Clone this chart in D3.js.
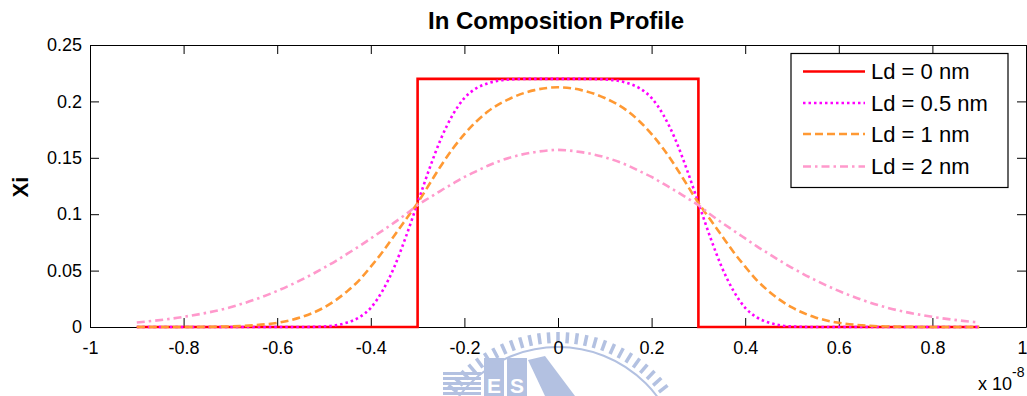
<!DOCTYPE html>
<meta charset="utf-8">
<style>
    body {
        margin: 0;
        background: #fff;
        font-family: Arial, "Liberation Sans", Helvetica, sans-serif;
    }
    .axis text { font-size: 18px; fill: #000; }
    .axis path, .axis line { stroke: #000; }
</style>
<body>
<script src="https://cdn.jsdelivr.net/npm/d3@7"></script>
<script>

// x positions (units of 1e-8 m) shared by the smooth profiles
var xs = [-0.9,-0.8,-0.7,-0.65,-0.6,-0.55,-0.5,-0.475,-0.45,-0.425,-0.4,-0.375,-0.35,-0.325,-0.3,-0.275,-0.25,-0.225,-0.2,-0.175,-0.15,-0.1,-0.05,
          0,
          0.05,0.1,0.15,0.175,0.2,0.225,0.25,0.275,0.3,0.325,0.35,0.375,0.4,0.425,0.45,0.475,0.5,0.55,0.6,0.65,0.7,0.8,0.9];

// Ld = 0 nm : sharp step
var ld0x = [-0.9, -0.3, -0.3, 0.3, 0.3, 0.9];
var ld0y = [0, 0, 0.22, 0.22, 0, 0];

// Ld = 0.5 nm
var ld05 = [0,0,0,0,0,0,0.0005,0.0015,0.004,0.0085,0.017,0.032,0.053,0.080,0.110,0.140,0.167,0.188,0.203,0.2115,0.216,0.2195,0.22,
            0.22,
            0.22,0.2195,0.216,0.2115,0.203,0.188,0.167,0.140,0.110,0.080,0.053,0.032,0.017,0.0085,0.004,0.0015,0.0005,0,0,0,0,0,0];

// Ld = 1 nm
var ld1 = [0,0,0.0005,0.0015,0.0037,0.0085,0.0173,0.0238,0.0318,0.0414,0.0535,0.0665,0.081,0.0955,0.110,0.1265,0.143,0.158,0.171,0.182,0.191,0.203,0.210,
           0.2125,
           0.210,0.203,0.191,0.182,0.171,0.158,0.143,0.1265,0.110,0.0955,0.081,0.0665,0.0535,0.0414,0.0318,0.0238,0.0173,0.0085,0.0037,0.0015,0.0005,0,0];

// Ld = 2 nm
var ld2 = [0.004,0.009,0.0175,0.024,0.032,0.0415,0.0525,0.0585,0.065,0.0715,0.0785,0.0855,0.0925,0.1,0.108,0.1145,0.121,0.127,0.133,0.138,0.143,0.1505,0.155,
           0.157,
           0.155,0.1505,0.143,0.138,0.133,0.127,0.121,0.1145,0.108,0.1,0.0925,0.0855,0.0785,0.0715,0.065,0.0585,0.0525,0.0415,0.032,0.024,0.0175,0.009,0.004];

var legendLabels = ["Ld = 0 nm", "Ld = 0.5 nm", "Ld = 1 nm", "Ld = 2 nm"];
var xTicks = [-1,-0.8,-0.6,-0.4,-0.2,0,0.2,0.4,0.6,0.8,1];
var yTicks = [0,0.05,0.1,0.15,0.2,0.25];

var W = 1027, H = 396;
var margin = {top: 45, right: 1, bottom: 69, left: 90},
    width = W - margin.left - margin.right,
    height = H - margin.top - margin.bottom;

var svg = d3.select("body").append("svg")
    .attr("width", W)
    .attr("height", H)
    .style("display", "block");

svg.append("rect").attr("width", W).attr("height", H).attr("fill", "#fff");

// faint watermark logo at the bottom
var wm = svg.append("g").attr("fill", "#b3c1e1").attr("stroke", "none");
var wcx = 558, wcy = 471;
wm.append("circle").attr("cx", wcx).attr("cy", wcy).attr("r", 124)
    .attr("fill", "none").attr("stroke", "#b3c1e1").attr("stroke-width", 2);
d3.range(-52, 53, 4).forEach(function(a) {
    var r = a * Math.PI / 180;
    wm.append("line")
        .attr("x1", wcx + 128 * Math.sin(r)).attr("y1", wcy - 128 * Math.cos(r))
        .attr("x2", wcx + 139 * Math.sin(r)).attr("y2", wcy - 139 * Math.cos(r))
        .attr("stroke", "#b3c1e1").attr("stroke-width", 3.5);
});
d3.range(0, 5).forEach(function(i) {
    wm.append("rect").attr("x", 443).attr("y", 372 + i * 5).attr("width", 38).attr("height", 3);
});
wm.append("rect").attr("x", 484).attr("y", 358).attr("width", 20).attr("height", 40);
wm.append("rect").attr("x", 507).attr("y", 358).attr("width", 20).attr("height", 40);
wm.append("polygon").attr("points", "528,360 545,356 575,396 545,396");
wm.append("text").attr("x", 494).attr("y", 393).attr("text-anchor", "middle")
    .attr("font-size", 21).attr("font-weight", "bold").attr("fill", "#fff").text("E");
wm.append("text").attr("x", 517).attr("y", 393).attr("text-anchor", "middle")
    .attr("font-size", 21).attr("font-weight", "bold").attr("fill", "#fff").text("S");

var g = svg.append("g")
    .attr("transform", "translate(" + margin.left + "," + margin.top + ")");

var x = d3.scaleLinear().domain([-1, 1]).range([0, width]);
var y = d3.scaleLinear().domain([0, 0.25]).range([height, 0]);

var fx = function(d) { return String(+d.toFixed(1)); };
var fy = function(d) { return String(+d.toFixed(2)); };

var xAxis = g.append("g").attr("class", "axis")
    .attr("transform", "translate(0," + height + ")")
    .call(d3.axisBottom(x).tickValues(xTicks).tickFormat(fx)
        .tickSizeInner(-9).tickSizeOuter(0).tickPadding(14));
// last label sits at the window edge: keep it inside
xAxis.selectAll(".tick text").filter(function(d) { return d === 1; })
    .attr("text-anchor", "end").attr("x", 1);
g.append("g").attr("class", "axis")
    .call(d3.axisTop(x).tickValues(xTicks).tickFormat("")
        .tickSizeInner(-9).tickSizeOuter(0));
g.append("g").attr("class", "axis")
    .call(d3.axisLeft(y).tickValues(yTicks).tickFormat(fy)
        .tickSizeInner(-9).tickSizeOuter(0).tickPadding(8));
g.append("g").attr("class", "axis")
    .attr("transform", "translate(" + width + ",0)")
    .call(d3.axisRight(y).tickValues(yTicks).tickFormat("")
        .tickSizeInner(-9).tickSizeOuter(0));
g.selectAll(".axis .tick line").attr("stroke", "#333");

var series = [
    {xv: ld0x, yv: ld0y, color: "#ff0000", dash: null, curve: d3.curveLinear},
    {xv: xs, yv: ld05, color: "#ff00ff", dash: "2.5,3", curve: d3.curveMonotoneX},
    {xv: xs, yv: ld1, color: "#ff9933", dash: "8,4", curve: d3.curveMonotoneX},
    {xv: xs, yv: ld2, color: "#ff99cc", dash: "8,4,2.5,4", curve: d3.curveMonotoneX}
];

series.forEach(function(s) {
    var pts = s.xv.map(function(v, i) { return [v, s.yv[i]]; });
    var line = d3.line()
        .x(function(d) { return x(d[0]); })
        .y(function(d) { return y(d[1]); })
        .curve(s.curve);
    g.append("path")
        .datum(pts)
        .attr("d", line)
        .attr("fill", "none")
        .attr("stroke", s.color)
        .attr("stroke-width", 2.6)
        .attr("stroke-dasharray", s.dash);
});

// legend
var lg = svg.append("g").attr("transform", "translate(791,53.5)");
lg.append("rect").attr("width", 217).attr("height", 134)
    .attr("fill", "#fff").attr("stroke", "#000").attr("stroke-width", 1.2);
var rowY = [18, 49.5, 80.5, 113];
series.forEach(function(s, i) {
    lg.append("line")
        .attr("x1", 12).attr("x2", 74)
        .attr("y1", rowY[i]).attr("y2", rowY[i])
        .attr("stroke", s.color).attr("stroke-width", 2.6)
        .attr("stroke-dasharray", s.dash);
    lg.append("text")
        .attr("x", 80).attr("y", rowY[i]).attr("dy", "0.36em")
        .attr("font-size", 22).attr("fill", "#000")
        .text(legendLabels[i]);
});

// title, y label, exponent
svg.append("text")
    .attr("x", 556).attr("y", 29).attr("text-anchor", "middle")
    .attr("font-size", 24).attr("font-weight", "bold")
    .text("In Composition Profile");

svg.append("text")
    .attr("transform", "translate(28,187) rotate(-90)")
    .attr("text-anchor", "middle")
    .attr("font-size", 22).attr("font-weight", "bold")
    .text("Xi");

var ex = svg.append("text").attr("x", 978).attr("y", 390).attr("font-size", 18);
ex.append("tspan").text("x 10");
ex.append("tspan").attr("dy", -13).attr("font-size", 14).text("-8");

</script>
</body>
